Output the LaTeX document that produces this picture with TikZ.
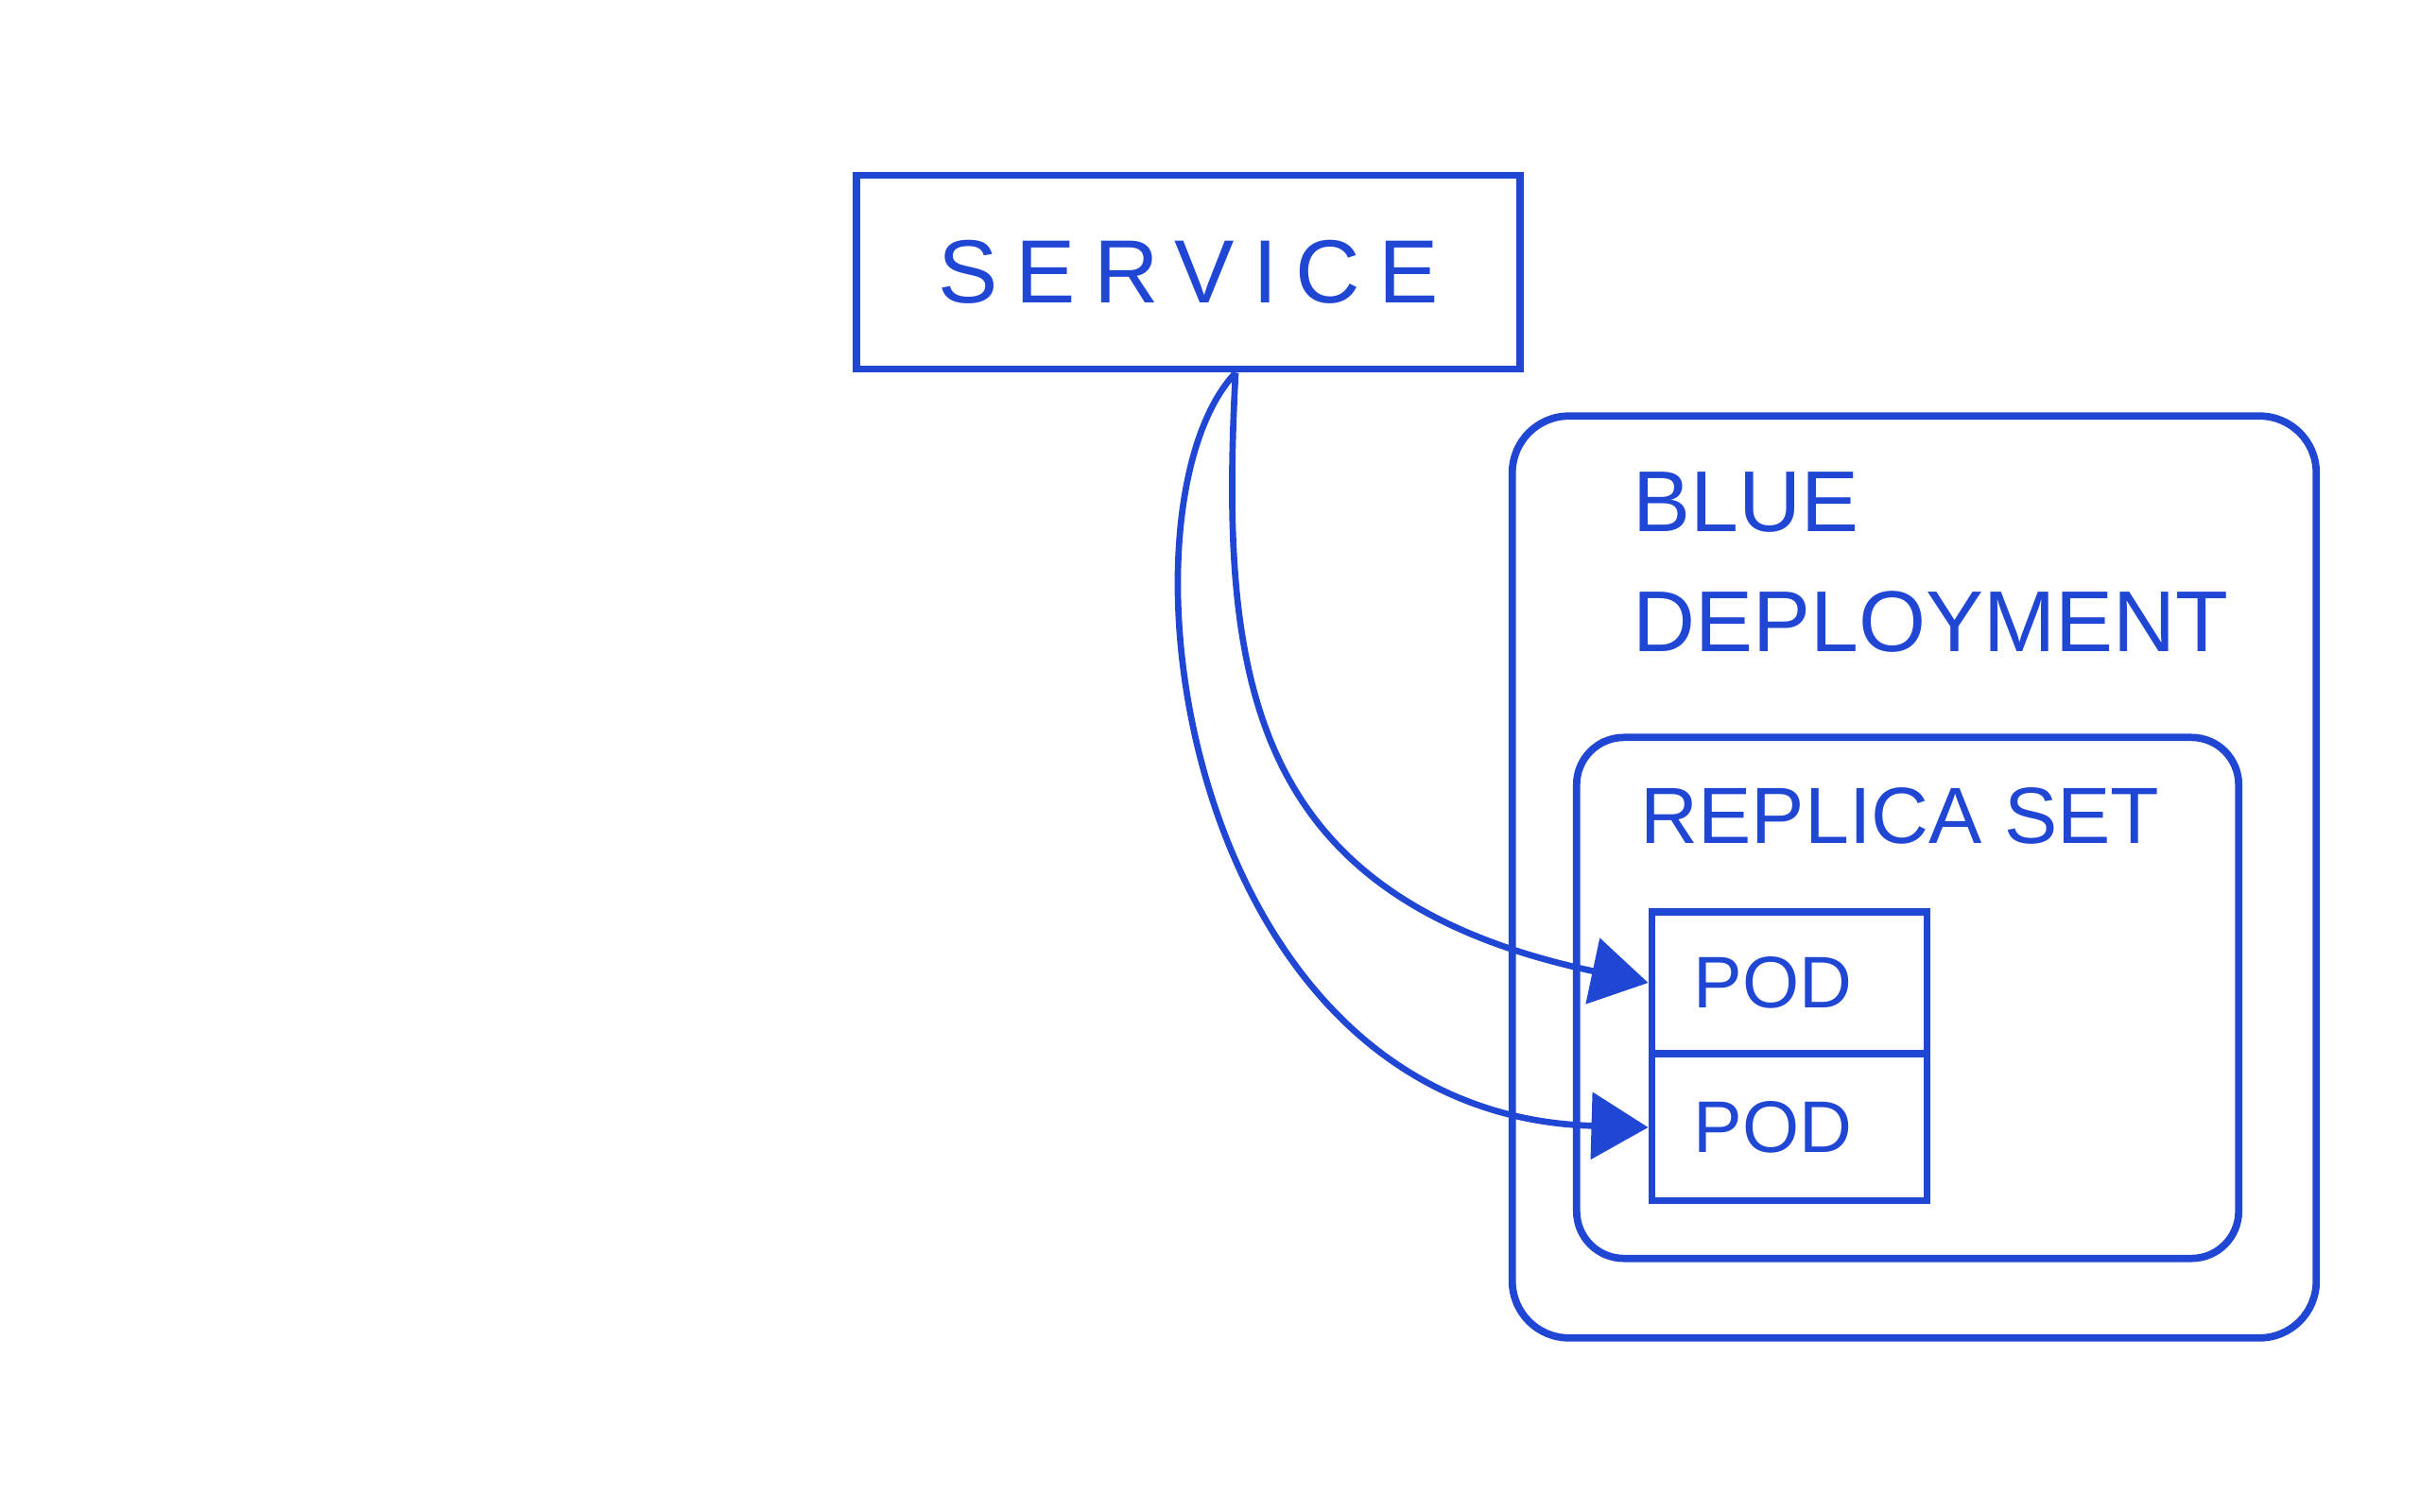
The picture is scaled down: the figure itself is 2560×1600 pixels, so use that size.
\documentclass[tikz,border=0pt]{standalone}
\usepackage{fontspec}
\setmainfont{Liberation Sans}
\usepackage{tikz}
\usetikzlibrary{arrows.meta, positioning, shapes}
\definecolor{InkBlue}{RGB}{32,70,212}

\begin{document}
\begin{tikzpicture}[x=0.01cm, y=-0.01cm,
		every node/.style={text=InkBlue},
		box/.style={draw=InkBlue, line width=2.2pt, inner sep=0pt},
		label text/.style={inner sep=0pt, anchor=north west, align=left},
		link/.style={draw=InkBlue, line width=1.9pt, -{Triangle[length=0.6cm, width=0.7cm]}},
	]
	\useasboundingbox (0,0) rectangle (2560,1600);
	\node[box, minimum width=7.02cm, minimum height=2.05cm,
		font=\fontsize{27}{27}\selectfont\addfontfeature{LetterSpace=20}] (service) at (1257,288) {SERVICE};
	\node[box, rounded corners=0.6cm, minimum width=8.5cm, minimum height=9.75cm] (deploy) at (2025,928) {};
	\node[box, rounded corners=0.5cm, minimum width=7cm, minimum height=5.51cm] (rs) at (2018,1056) {};
	\node[box, minimum width=2.91cm, minimum height=1.5cm,
		font=\fontsize{22}{22}\selectfont] (pod1) at (1893,1040) {POD\hspace*{0.35cm}};
	\node[box, minimum width=2.91cm, minimum height=1.55cm,
		font=\fontsize{22}{22}\selectfont] (pod2) at (1893,1193) {POD\hspace*{0.35cm}};
	\node[label text, font=\fontsize{26}{36}\selectfont] (deploytext)
		at ([xshift=1.31cm, yshift=-0.63cm]deploy.north west) {BLUE\\DEPLOYMENT};
	\node[label text, font=\fontsize{24}{24}\selectfont] (rstext)
		at ([xshift=0.71cm, yshift=-0.56cm]rs.north west) {REPLICA SET};
	\draw[link] ([xshift=0.5cm]service.south) .. controls (1290,720) and (1320,950) .. (pod1.west);
	\draw[link] ([xshift=0.5cm]service.south) .. controls (1170,540) and (1250,1179) .. (pod2.west);
\end{tikzpicture}
\end{document}
